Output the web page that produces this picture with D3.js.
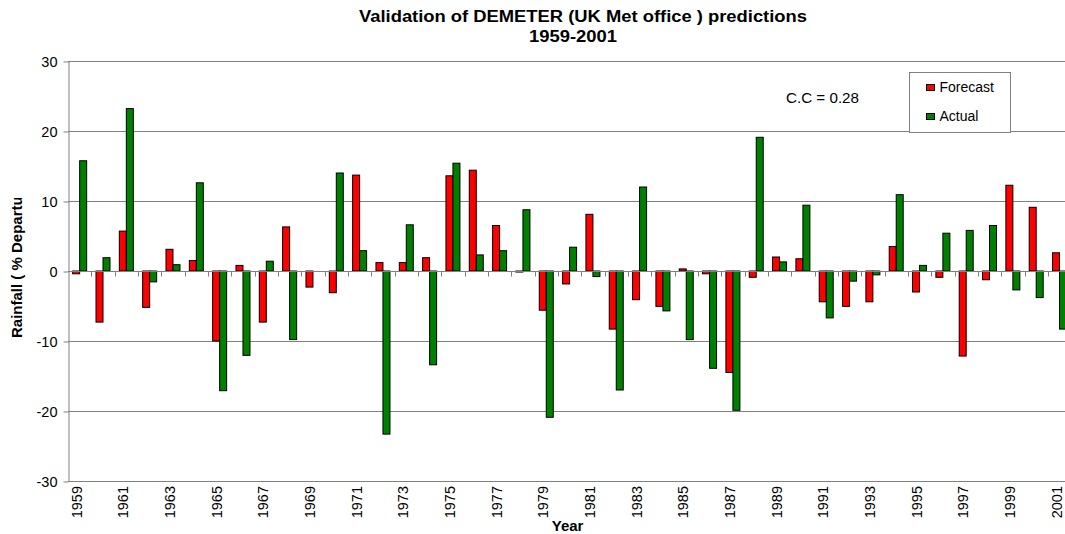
<!DOCTYPE html>
<html>
<head>
<meta charset="utf-8">
<script src="https://cdn.jsdelivr.net/npm/d3@7"></script>
<style>
  body { margin: 0; background: #fff; }
  svg { display: block; font-family: "Liberation Sans", Arial, sans-serif; }
</style>
</head>
<body>
<div id="chart"></div>
<script>
// Data
const years = d3.range(1959, 2002).map(String);

// Forecast (% departure), 1959-2001
const forecast = [
  -0.4, -7.3, 5.7, -5.2, 3.1, 1.5, -10.0, 0.8, -7.3, 6.3,
  -2.3, -3.1, 13.7, 1.2, 1.2, 1.9, 13.6, 14.4, 6.5, -0.15,
  -5.6, -1.85, 8.1, -8.3, -4.1, -5.05, 0.3, -0.4, -14.5, -0.9,
  2.0, 1.75, -4.4, -5.05, -4.4, 3.5, -3.0, -0.9, -12.15, -1.25,
  12.25, 9.1, 2.6
];

// Actual (% departure), 1959-2001
const actual = [
  15.75, 1.9, 23.2, -1.55, 0.9, 12.6, -17.1, -12.05, 1.4, -9.8,
  0, 14.0, 2.9, -23.3, 6.6, -13.4, 15.4, 2.3, 2.9, 8.75,
  -20.9, 3.4, -0.8, -17.0, 12.0, -5.7, -9.8, -13.9, -19.9, 19.1,
  1.3, 9.4, -6.7, -1.45, -0.55, 10.9, 0.8, 5.4, 5.8, 6.5,
  -2.7, -3.8, -8.3
];

const seriesNames = ["Forecast", "Actual"];
const seriesColors = ["#ff0000", "#008000"];
const yTicks = [-30, -20, -10, 0, 10, 20, 30];

const data = years.map((yr, i) => ({
  year: yr,
  values: [
    { key: "Forecast", value: forecast[i] },
    { key: "Actual", value: actual[i] }
  ]
}));

// Dimensions
const W = 1065, H = 534;
const plotLeft = 68, plotTop = 61, plotH = 420;
const step = 23.33;
const plotRight = plotLeft + step * years.length;   // runs past the right edge, clipped like the original

const svg = d3.select("#chart")
  .append("svg")
  .attr("width", W)
  .attr("height", H);

// Scales
const x0 = d3.scaleBand()
  .domain(years)
  .range([plotLeft, plotRight])
  .paddingInner(0);

const x1 = d3.scaleBand()
  .domain(seriesNames)
  .range([0, x0.bandwidth()])
  .paddingInner(0)
  .paddingOuter(0.667);

const y = d3.scaleLinear()
  .domain([-30, 30])
  .range([plotTop + plotH, plotTop]);

const color = d3.scaleOrdinal()
  .domain(seriesNames)
  .range(seriesColors);

// Gridlines
svg.append("g")
  .selectAll("line")
  .data(yTicks.filter(d => d !== 0))
  .enter()
  .append("line")
  .attr("x1", plotLeft)
  .attr("x2", W)
  .attr("y1", d => y(d) + 0.5)
  .attr("y2", d => y(d) + 0.5)
  .attr("stroke", "#808080")
  .attr("stroke-width", 1);

// Y axis (plain hyphen for negatives, like the original)
const yAxis = svg.append("g")
  .attr("transform", `translate(${plotLeft + 0.5},0.5)`)
  .call(d3.axisLeft(y)
    .tickValues(yTicks)
    .tickFormat(d => String(d))
    .tickSize(5)
    .tickPadding(6)
    .tickSizeOuter(0));

yAxis.select(".domain").attr("stroke", "#808080");
yAxis.selectAll(".tick line").attr("stroke", "#808080");
yAxis.selectAll(".tick text")
  .attr("font-family", "'Liberation Sans', Arial, sans-serif")
  .attr("font-size", 14.5)
  .attr("fill", "#000");

// Bars
const groups = svg.selectAll(".yearGroup")
  .data(data)
  .enter()
  .append("g")
  .attr("class", "yearGroup")
  .attr("transform", d => `translate(${x0(d.year)},0)`);

groups.selectAll("rect")
  .data(d => d.values)
  .enter()
  .append("rect")
  .attr("x", d => x1(d.key))
  .attr("y", d => y(Math.max(0, d.value)))
  .attr("width", x1.bandwidth())
  .attr("height", d => Math.abs(y(d.value) - y(0)))
  .attr("fill", d => color(d.key))
  .attr("stroke", "#000")
  .attr("stroke-width", 1);

// Zero axis with ticks between years
const xAxis = svg.append("g")
  .attr("transform", `translate(0,${y(0) + 0.5})`);

xAxis.append("line")
  .attr("x1", plotLeft)
  .attr("x2", W)
  .attr("stroke", "#808080");

xAxis.selectAll(".tick")
  .data(years.slice(1))
  .enter()
  .append("line")
  .attr("x1", d => Math.round(x0(d)) + 0.5)
  .attr("x2", d => Math.round(x0(d)) + 0.5)
  .attr("y1", 0)
  .attr("y2", 5)
  .attr("stroke", "#808080");

// Year labels (every other year), rotated
svg.append("g")
  .selectAll("text")
  .data(years.filter((d, i) => i % 2 === 0))
  .enter()
  .append("text")
  .attr("transform", d => `translate(${x0(d) + x0.bandwidth() / 2 + 2},${plotTop + plotH + 5}) rotate(-90)`)
  .attr("text-anchor", "end")
  .attr("font-size", 14.5)
  .text(d => d);

// Axis titles
svg.append("text")
  .attr("x", (plotLeft + plotRight) / 2 - 2)
  .attr("y", 531)
  .attr("text-anchor", "middle")
  .attr("font-size", 15)
  .attr("font-weight", "bold")
  .text("Year");

// The y title is cut off at the top in the original
svg.append("clipPath")
  .attr("id", "yTitleClip")
  .append("rect")
  .attr("x", 0)
  .attr("y", 198)
  .attr("width", 40)
  .attr("height", 200);

svg.append("g")
  .attr("clip-path", "url(#yTitleClip)")
  .append("text")
  .attr("transform", "translate(22,338) rotate(-90)")
  .attr("text-anchor", "start")
  .attr("font-size", 15)
  .attr("font-weight", "bold")
  .text("Rainfall ( % Departure )");

// Title
svg.append("text")
  .attr("x", 583)
  .attr("y", 22)
  .attr("text-anchor", "middle")
  .attr("font-size", 16)
  .attr("font-weight", "bold")
  .attr("textLength", 448)
  .attr("lengthAdjust", "spacingAndGlyphs")
  .text("Validation of DEMETER (UK Met office ) predictions");

svg.append("text")
  .attr("x", 573)
  .attr("y", 42)
  .attr("text-anchor", "middle")
  .attr("font-size", 16)
  .attr("font-weight", "bold")
  .attr("textLength", 88)
  .attr("lengthAdjust", "spacingAndGlyphs")
  .text("1959-2001");

// Correlation note
svg.append("text")
  .attr("x", 786)
  .attr("y", 103)
  .attr("font-size", 14)
  .attr("textLength", 73)
  .attr("lengthAdjust", "spacingAndGlyphs")
  .text("C.C = 0.28");

// Legend
const legend = svg.append("g")
  .attr("transform", "translate(909.5,72.5)");

legend.append("rect")
  .attr("width", 101)
  .attr("height", 60)
  .attr("fill", "#fff")
  .attr("stroke", "#808080");

seriesNames.forEach((name, i) => {
  legend.append("rect")
    .attr("x", 17)
    .attr("y", 12 + i * 29)
    .attr("width", 8)
    .attr("height", 6)
    .attr("fill", color(name))
    .attr("stroke", "#000");

  legend.append("text")
    .attr("x", 30)
    .attr("y", 19 + i * 29)
    .attr("font-size", 14)
    .text(name);
});
</script>
</body>
</html>
